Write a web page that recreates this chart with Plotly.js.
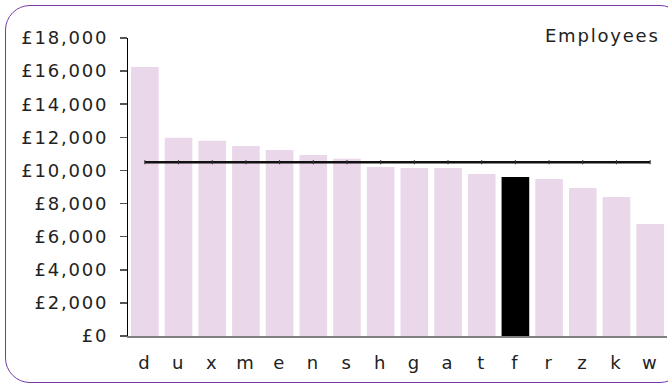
<!DOCTYPE html>
<html>
<head>
<meta charset="utf-8">
<script src="https://cdn.plot.ly/plotly-3.0.1.min.js"></script>
<style>
  html, body { margin: 0; padding: 0; background: #ffffff; overflow: hidden; width: 668px; height: 383px; }
  #frame { position: absolute; left: 5px; top: 5px; width: 680px; height: 378px; box-sizing: border-box;
           border: 1.5px solid #7a3aa6; border-radius: 25px; }
  #chart { position: absolute; left: 0; top: 0; width: 668px; height: 383px; }
  #chart svg text { letter-spacing: 1.8px !important; }
</style>
</head>
<body>
<div id="frame"></div>
<div id="chart"></div>
<script>
const categories = ['d','u','x','m','e','n','s','h','g','a','t','f','r','z','k','w'];
const salaries = [16250, 11970, 11790, 11480, 11240, 10940, 10700, 10210, 10150, 10150, 9790, 9600, 9490, 8940, 8400, 6760];
const averageLine = [10500, 10500, 10500, 10500, 10500, 10500, 10500, 10500, 10500, 10500, 10500, 10500, 10500, 10500, 10500, 10500];
const highlighted = 'f';
const yTickValues = [0, 2000, 4000, 6000, 8000, 10000, 12000, 14000, 16000, 18000];
const yTickLabels = ['£0', '£2,000', '£4,000', '£6,000', '£8,000', '£10,000', '£12,000', '£14,000', '£16,000', '£18,000'];
const chartTitle = 'Employees';

const barColors = categories.map(c => c === highlighted ? '#000000' : '#ead8ea');
const font = { family: 'DejaVu Sans, Verdana, sans-serif', size: 18, color: '#222222' };

const traces = [
  { type: 'bar', x: categories, y: salaries, marker: { color: barColors, line: { width: 0 } },
    hoverinfo: 'x+y', showlegend: false },
  { type: 'scatter', mode: 'lines+markers', x: categories, y: averageLine,
    line: { color: '#111111', width: 2.5 },
    marker: { symbol: 'line-ns-open', size: 3, color: '#333333', line: { color: '#333333', width: 1 } },
    showlegend: false }
];

const layout = {
  width: 668, height: 383,
  margin: { l: 128, r: 1, t: 38, b: 47, pad: 0 },
  paper_bgcolor: 'rgba(0,0,0,0)', plot_bgcolor: 'rgba(0,0,0,0)',
  font: font,
  bargap: 0.18,
  xaxis: { type: 'category', range: [-0.5, categories.length - 0.5], showgrid: false, zeroline: false,
           showline: true, linecolor: '#808080', linewidth: 1.5,
           ticks: '', tickfont: font, ticklabelstandoff: 10, fixedrange: true },
  yaxis: { range: [0, 18000], showgrid: false, zeroline: false, showline: true, linecolor: '#000000', linewidth: 1.2,
           ticks: 'outside', ticklen: 7, tickcolor: '#555555', tickwidth: 1.5,
           tickvals: yTickValues, ticktext: yTickLabels, tickfont: font, ticklabelstandoff: 8, fixedrange: true },
  annotations: [{ text: chartTitle, xref: 'paper', yref: 'paper', x: 0.976, y: 1.01, xanchor: 'right', yanchor: 'middle',
                  showarrow: false, font: font }]
};

Plotly.newPlot('chart', traces, layout, { displayModeBar: false, staticPlot: true });
</script>
</body>
</html>
